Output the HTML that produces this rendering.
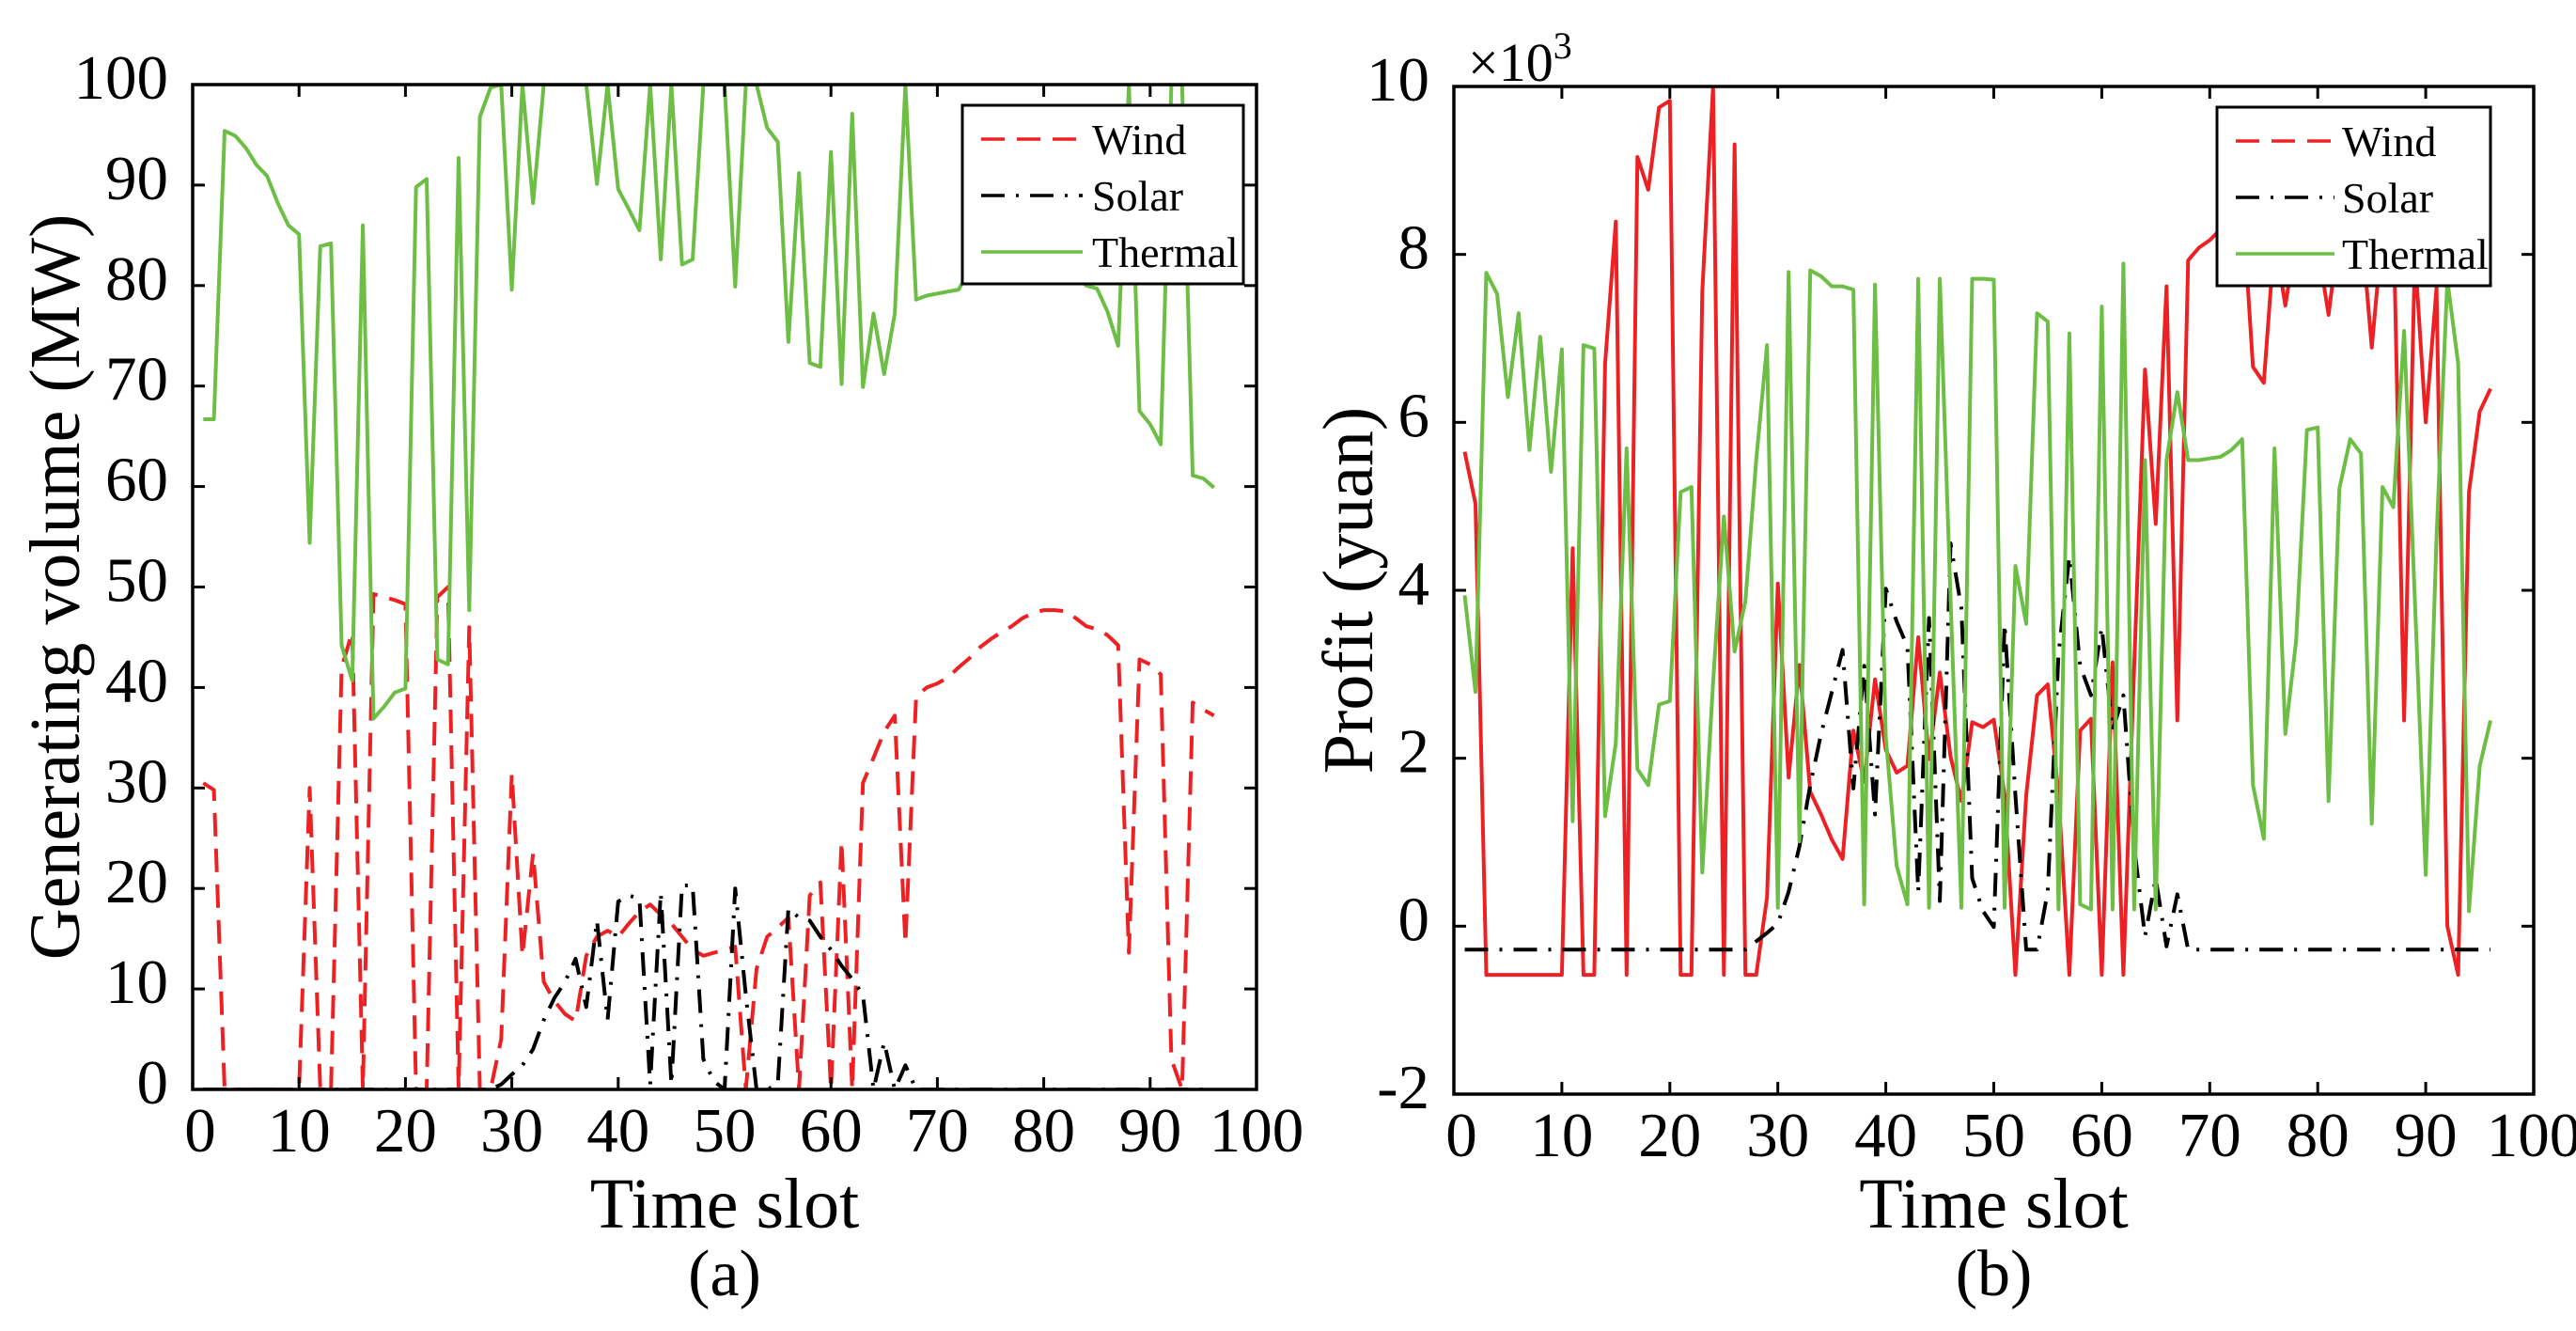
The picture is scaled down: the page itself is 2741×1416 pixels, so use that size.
<!DOCTYPE html>
<html><head><meta charset="utf-8"><style>
html,body{margin:0;padding:0;background:#fff;}
svg{display:block;font-family:"Liberation Serif","Times New Roman",serif;}
</style></head><body>
<svg id="fig" xmlns="http://www.w3.org/2000/svg" width="2741" height="1416" viewBox="0 0 2741 1416">
<rect width="2741" height="1416" fill="#fff"/>
<defs>
<clipPath id="clipA"><rect x="205" y="90" width="1132" height="1069"/></clipPath>
<clipPath id="clipB"><rect x="1547" y="92" width="1149" height="1072"/></clipPath>
</defs>
<g id="panelA"></g>
<g id="panelB"></g>
</svg>
<script>
const slots = Array.from({length:96},(_,k)=>k+1);
const xTicks = [0,10,20,30,40,50,60,70,80,90,100];
const yTicksA = [0,10,20,30,40,50,60,70,80,90,100];
const yTicksB = [-2,0,2,4,6,8,10];
const windA = [30.5,29.8,0,0,0,0,0,0,0,0,30,0,0,42,45.5,0,49.3,49,48.7,48.3,0,0,49,50,0,46,0,0,5,31.4,13.3,23.5,10.7,8.8,7.5,6.8,13.3,15.2,15.8,15.2,16.5,17.7,18.4,17.4,16.5,15.2,13.9,13.3,13.6,13.9,14.2,0,12,15.2,16.1,17.1,0,19.3,20.6,0,24.7,0,30.5,33,35.6,37.2,14.5,39.1,40,40.4,41,42,42.9,44,44.8,45.5,46.1,46.9,47.4,47.7,47.7,47.6,46.9,46.1,45.8,45.2,44.2,13.6,42.8,42.3,41.3,3,0,38.5,37.8,37.2];
const solarA = [0,0,0,0,0,0,0,0,0,0,0,0,0,0,0,0,0,0,0,0,0,0,0,0,0,0,0,0,0.5,1.5,2.4,4,6.9,9.1,10.7,13,8.2,16.8,6.9,18.7,19.3,19,0.5,19.6,0.5,20.3,20.3,3,0.8,0,20,9.4,0,0,0.5,18,17.1,16.8,15.2,13.9,12.3,11,9.4,0,4.7,0,2.4,0,0,0,0,0,0,0,0,0,0,0,0,0,0,0,0,0,0,0,0,0,0,0,0,0,0,0,0,0];
const thermalA = [66.7,66.7,95.4,94.9,93.7,92,90.9,88.2,86,85.1,54.4,83.9,84.2,44.2,40.7,86,36.9,38.1,39.5,39.9,89.8,90.6,42.8,42.3,92.7,47.7,96.8,99.7,100,79.6,100,88.2,100,100,100,100,100,90.1,100,89.6,87.6,85.5,100,82.6,100,82.1,82.6,100,100,100,79.9,100,100,95.7,94.3,74.4,91.2,72.3,71.9,93.3,70.2,97.1,69.9,77.2,71.2,77.2,100,78.6,79,79.2,79.4,79.6,81.5,82,83,84,85,85,84,84,83,82,81,80,79.7,77.4,74,100,67.5,66.2,64.2,100,100,61.1,60.8,59.9];
const windB = [5.65,5.03,-0.58,-0.58,-0.58,-0.58,-0.58,-0.58,-0.58,-0.58,4.5,-0.58,-0.58,6.7,8.39,-0.58,9.16,8.77,9.75,9.83,-0.58,-0.58,7.55,10,-0.58,9.31,-0.58,-0.58,0.34,4.08,1.77,3.11,1.6,1.33,1.03,0.8,2.33,1.72,2.94,2.1,1.83,1.91,3.44,1.99,3.02,2.02,1.49,2.43,2.37,2.46,1.56,-0.58,1.56,2.75,2.88,1.56,-0.58,2.33,2.47,-0.58,3.14,-0.58,3.1,6.63,4.79,7.62,2.45,7.93,8.08,8.17,8.3,8.47,8.66,6.66,6.47,8.2,7.39,8.2,8.3,8.1,7.28,8.3,8.4,8.4,6.89,8.3,8.5,2.45,8.0,6.0,7.6,0,-0.58,5.17,6.13,6.4];
const solarB = [-0.28,-0.28,-0.28,-0.28,-0.28,-0.28,-0.28,-0.28,-0.28,-0.28,-0.28,-0.28,-0.28,-0.28,-0.28,-0.28,-0.28,-0.28,-0.28,-0.28,-0.28,-0.28,-0.28,-0.28,-0.28,-0.28,-0.28,-0.18,-0.08,0.03,0.41,0.95,1.68,2.29,2.79,3.29,1.64,3.1,1.33,4.02,3.63,3.33,0.41,3.67,0.3,4.56,3.79,0.57,0.18,-0.01,3.6,1.56,-0.28,-0.28,0.41,3.25,4.4,3.1,2.75,3.56,2.33,2.75,0.95,-0.12,0.57,-0.24,0.38,-0.28,-0.28,-0.28,-0.28,-0.28,-0.28,-0.28,-0.28,-0.28,-0.28,-0.28,-0.28,-0.28,-0.28,-0.28,-0.28,-0.28,-0.28,-0.28,-0.28,-0.28,-0.28,-0.28,-0.28,-0.28,-0.28,-0.28,-0.28,-0.28];
const thermalB = [3.94,2.79,7.78,7.53,6.3,7.3,5.67,7.02,5.41,6.87,1.25,6.92,6.88,1.31,2.18,5.69,1.87,1.68,2.64,2.68,5.17,5.23,0.64,2.9,4.88,3.27,3.87,5.55,6.92,0.22,7.79,1.01,7.81,7.74,7.62,7.62,7.58,0.26,7.64,2.25,0.72,0.26,7.71,0.22,7.71,3.9,0.22,7.71,7.71,7.7,0.22,4.29,3.6,7.3,7.2,0.2,7.06,0.26,0.2,7.38,0.2,7.89,0.2,5.55,0.2,5.55,6.36,5.55,5.55,5.57,5.59,5.67,5.8,1.68,1.04,5.69,2.29,3.4,5.91,5.94,1.49,5.21,5.8,5.63,1.22,5.23,4.99,7.09,3.87,0.61,4.63,7.7,6.7,0.18,1.91,2.45];

const NS='http://www.w3.org/2000/svg';
const RED='#ed2024', GREEN='#6dbe45';
function mk(tag,attrs,parent){const e=document.createElementNS(NS,tag);for(const k in attrs)e.setAttribute(k,attrs[k]);parent.appendChild(e);return e;}
function txt(parent,x,y,s,size,anchor){const t=mk('text',{x:x,y:y,'font-size':size,'text-anchor':anchor||'middle',fill:'#000'},parent);t.textContent=s;return t;}

function panel(g,cfg){
  const {L,R,T,B,ymin,ymax,clip}=cfg;
  const sx=v=>L+(v-0)/(100-0)*(R-L);
  const sy=v=>B-(v-ymin)/(ymax-ymin)*(B-T);
  const series=mk('g',{'clip-path':'url(#'+clip+')'},g);
  
  
  cfg.series.forEach(s=>{
    const d=s.vals.map((v,i)=>(i?'L':'M')+sx(slots[i]).toFixed(1)+' '+sy(v).toFixed(1)).join(' ');
    const p=mk('path',{d:d,fill:'none',stroke:s.color,'stroke-width':4,'stroke-linejoin':'round'},series);
    if(s.dash)p.setAttribute('stroke-dasharray',s.dash);
    
    
  });
  const fr=mk('rect',{x:L,y:T,width:R-L,height:B-T,fill:'none',stroke:'#000','stroke-width':3.5},g);
  
  
  xTicks.forEach(v=>{
    const x=sx(v);
    mk('line',{x1:x,y1:B,x2:x,y2:B-13,stroke:'#000','stroke-width':3},g);
    mk('line',{x1:x,y1:T,x2:x,y2:T+13,stroke:'#000','stroke-width':3},g);
    const t=txt(g,x+(v===0?8:0),B+66,String(v),67);
    
    
  });
  cfg.yTicks.forEach(v=>{
    const y=sy(v);
    mk('line',{x1:L,y1:y,x2:L+13,y2:y,stroke:'#000','stroke-width':3},g);
    mk('line',{x1:R,y1:y,x2:R-13,y2:y,stroke:'#000','stroke-width':3},g);
    const t=txt(g,L-26,y+15,String(v),67,'end');
    
    
  });
  const xl=txt(g,(L+R)/2,1306,'Time slot',76);
  
  
  const yl=txt(g,0,0,cfg.ylabel,76);
  yl.setAttribute('transform','translate('+cfg.ylx+','+((T+B)/2)+') rotate(-90)');
  
  
  const cap=txt(g,(L+R)/2,1378,cfg.caption,70);
  
  
  const lg=mk('g',{},g);
  
  
  const [bx,by,bw,bh]=cfg.legendBox;
  mk('rect',{x:bx,y:by,width:bw,height:bh,fill:'#fff',stroke:'#000','stroke-width':3},lg);
  const entries=[['Wind',RED,'25 13'],['Solar','#000','25 12 3 12'],['Thermal',GREEN,null]];
  entries.forEach((e,k)=>{
    const y=by+36+k*60;
    const row=mk('g',{},lg);
    
    
    const ln=mk('line',{x1:bx+20,y1:y,x2:bx+20+cfg.lineLen,y2:y,stroke:e[1],'stroke-width':3.5},row);
    if(e[2])ln.setAttribute('stroke-dasharray',e[2]);
    txt(row,bx+cfg.textOff,y+16,e[0],46,'start');
  });
}

panel(document.getElementById('panelA'),{L:205,R:1337,T:90,B:1159,ymin:0,ymax:100,yTicks:yTicksA,clip:'clipA',
  ylabel:'Generating volume (MW)',ylx:84,caption:'(a)',legendBox:[1024,112,299,190],lineLen:108,textOff:138,
  series:[{name:'wind-line',vals:windA,color:RED,dash:'25 13'},{name:'solar-line',vals:solarA,color:'#000',dash:'25 12 3 12'},{name:'thermal-line',vals:thermalA,color:GREEN}]});
panel(document.getElementById('panelB'),{L:1547,R:2696,T:92,B:1164,ymin:-2,ymax:10,yTicks:yTicksB,clip:'clipB',
  ylabel:'Profit (yuan)',ylx:1460,caption:'(b)',legendBox:[2359,114,291,190],lineLen:105,textOff:133,
  series:[{name:'wind-line',vals:windB,color:RED},{name:'solar-line',vals:solarB,color:'#000',dash:'25 12 3 12'},{name:'thermal-line',vals:thermalB,color:GREEN}]});

const pb=document.getElementById('panelB');
const mult=mk('text',{x:1562,y:86,'font-size':58,fill:'#000'},pb);


mult.textContent='×10';
const sup=mk('tspan',{dy:-24,'font-size':40},mult);
sup.textContent='3';
</script>
</body></html>
